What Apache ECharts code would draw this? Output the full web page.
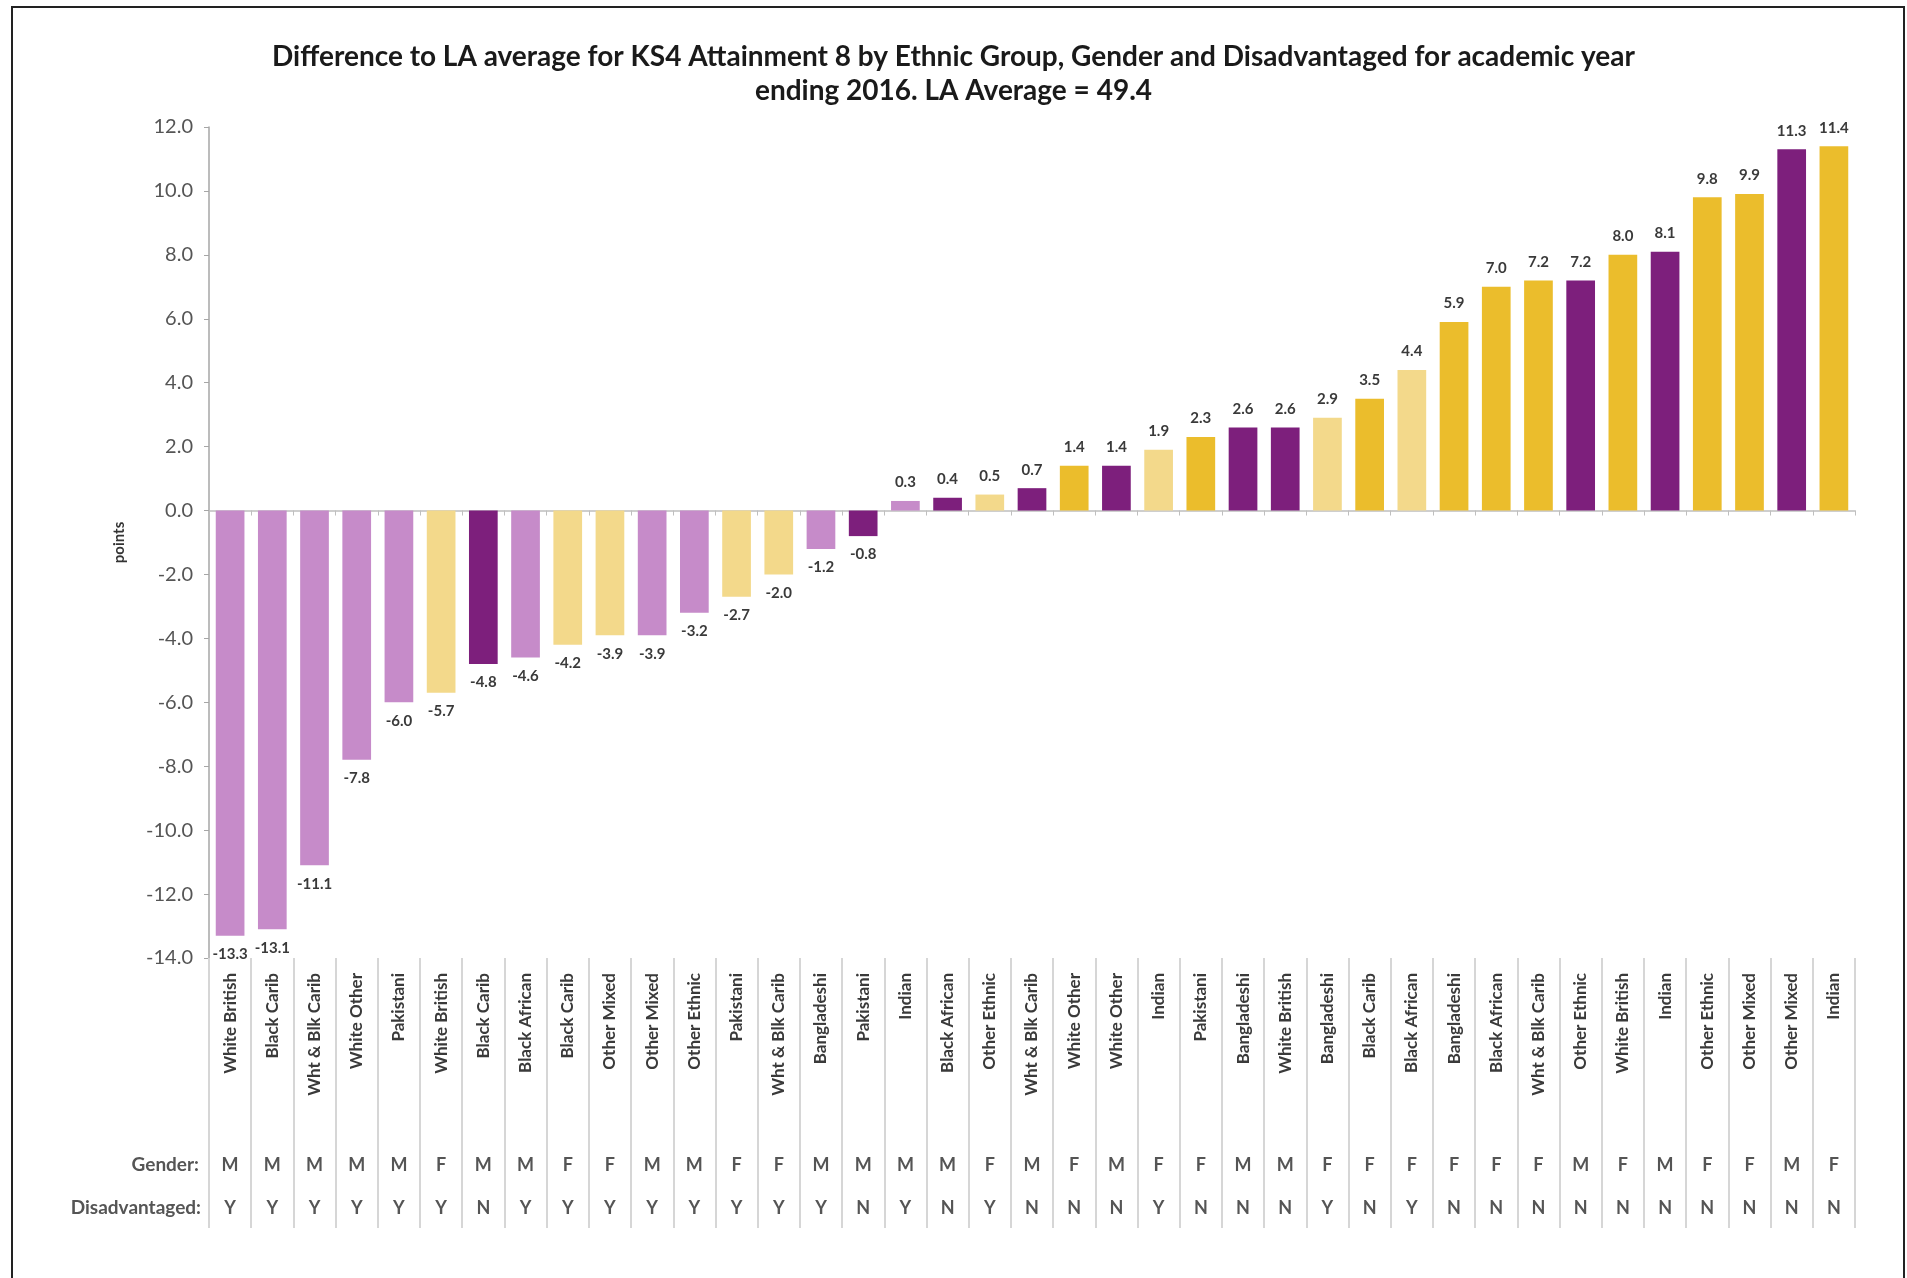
<!DOCTYPE html>
<html>
<head>
<meta charset="utf-8">
<script src="https://cdn.jsdelivr.net/npm/echarts@6/dist/echarts.min.js"></script>
<style>
html,body{margin:0;padding:0;background:#fff;}
#chart{width:1907px;height:1278px;}
</style>
</head>
<body>
<div id="chart"></div>
<script>
const categories = ["White British","Black Carib","Wht & Blk Carib","White Other","Pakistani","White British","Black Carib","Black African","Black Carib","Other Mixed","Other Mixed","Other Ethnic","Pakistani","Wht & Blk Carib","Bangladeshi","Pakistani","Indian","Black African","Other Ethnic","Wht & Blk Carib","White Other","White Other","Indian","Pakistani","Bangladeshi","White British","Bangladeshi","Black Carib","Black African","Bangladeshi","Black African","Wht & Blk Carib","Other Ethnic","White British","Indian","Other Ethnic","Other Mixed","Other Mixed","Indian"];
const values = [-13.3,-13.1,-11.1,-7.8,-6.0,-5.7,-4.8,-4.6,-4.2,-3.9,-3.9,-3.2,-2.7,-2.0,-1.2,-0.8,0.3,0.4,0.5,0.7,1.4,1.4,1.9,2.3,2.6,2.6,2.9,3.5,4.4,5.9,7.0,7.2,7.2,8.0,8.1,9.8,9.9,11.3,11.4];
const gender = ["M","M","M","M","M","F","M","M","F","F","M","M","F","F","M","M","M","M","F","M","F","M","F","F","M","M","F","F","F","F","F","F","M","F","M","F","F","M","F"];
const disadvantaged = ["Y","Y","Y","Y","Y","Y","N","Y","Y","Y","Y","Y","Y","Y","Y","N","Y","N","Y","N","N","N","Y","N","N","N","Y","N","Y","N","N","N","N","N","N","N","N","N","N"];
const yTicks = {min:-14, max:12, interval:2};
const title = "Difference to LA average for KS4 Attainment 8 by Ethnic Group, Gender and Disadvantaged for academic year\nending 2016. LA Average = 49.4";

const colorMap = {MY:'#c68bc9', MN:'#7d1f7c', FY:'#f3d98b', FN:'#ebbd2c'};
const FONT = 'Lato, "Open Sans", sans-serif';

const barData = values.map((v,i)=>({
  value:v,
  itemStyle:{color:colorMap[gender[i]+disadvantaged[i]]},
  label:{position: v<0 ? 'bottom' : 'top'}
}));

const chart = echarts.init(document.getElementById('chart'));
chart.setOption({
  animation:false,
  backgroundColor:'#fff',
  title:{
    text:title, left:'center', top:35,
    textStyle:{fontFamily:FONT, fontSize:28, fontWeight:'bold', color:'#1a1a1a', lineHeight:34}
  },
  grid:{left:209, right:52, top:127, bottom:320, containLabel:false},
  xAxis:[
    {type:'category', data:categories, position:'bottom',
     axisLine:{show:true, onZero:true, lineStyle:{color:'#bfbfbf', width:1.5}},
     axisTick:{show:true, interval:0, length:5, lineStyle:{color:'#bfbfbf'}},
     axisLabel:{show:false}},
    {type:'category', data:categories, position:'bottom',
     axisLine:{show:false, onZero:false},
     axisTick:{show:true, interval:0, length:270, lineStyle:{color:'#d6d6d6', width:2}},
     axisLabel:{show:true, interval:0, rotate:90, margin:15, fontFamily:FONT, fontSize:17, fontWeight:'bold', color:'#3a3a3a'}},
    {type:'category', data:gender, position:'bottom', offset:207,
     axisLine:{show:false, onZero:false}, axisTick:{show:false},
     name:'Gender:', nameLocation:'start', nameGap:10,
     nameTextStyle:{fontFamily:FONT, fontSize:19, fontWeight:'bold', color:'#555'},
     axisLabel:{show:true, interval:0, margin:0, verticalAlign:'middle', fontFamily:FONT, fontSize:18, fontWeight:'bold', color:'#555'}},
    {type:'category', data:disadvantaged, position:'bottom', offset:250,
     axisLine:{show:false, onZero:false}, axisTick:{show:false},
     name:'Disadvantaged:', nameLocation:'start', nameGap:8,
     nameTextStyle:{fontFamily:FONT, fontSize:19, fontWeight:'bold', color:'#555'},
     axisLabel:{show:true, interval:0, margin:0, verticalAlign:'middle', fontFamily:FONT, fontSize:18, fontWeight:'bold', color:'#555'}}
  ],
  yAxis:{
    type:'value', min:yTicks.min, max:yTicks.max, interval:yTicks.interval,
    name:'points', nameLocation:'middle', nameRotate:90, nameGap:82,
    nameTextStyle:{fontFamily:FONT, fontSize:15, fontWeight:'bold', color:'#333'},
    axisLine:{show:true, lineStyle:{color:'#a6a6a6', width:1.5}},
    axisTick:{show:true, length:5, lineStyle:{color:'#a6a6a6'}},
    splitLine:{show:false},
    axisLabel:{margin:16, fontFamily:FONT, fontSize:20, color:'#555', formatter:v=>v.toFixed(1)}
  },
  series:[{
    type:'bar', xAxisIndex:0, data:barData, barWidth:'68%',
    label:{show:true, distance:11, fontFamily:FONT, fontSize:15, fontWeight:'bold', color:'#3a3a3a', formatter:p=>p.value.toFixed(1)}
  }],
  graphic:[{
    type:'rect', shape:{x:12, y:7, width:1892, height:1300},
    style:{fill:'none', stroke:'#222', lineWidth:2}, silent:true, z:100
  }]
});
</script>
</body>
</html>
